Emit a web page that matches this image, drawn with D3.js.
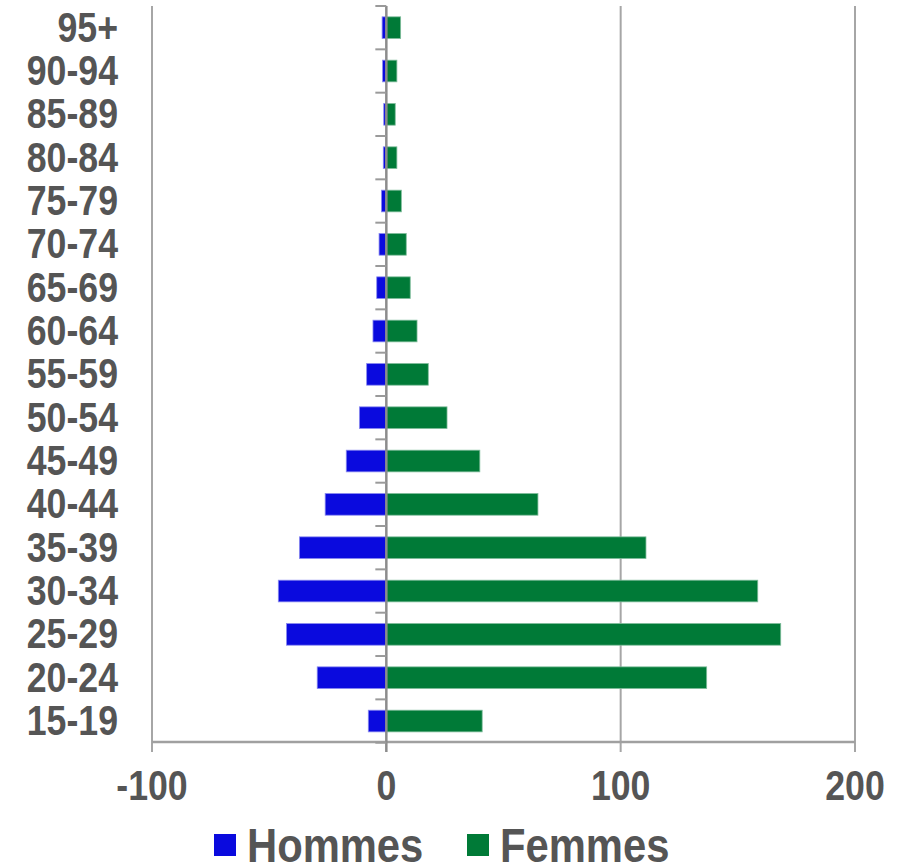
<!DOCTYPE html>
<html><head><meta charset="utf-8">
<script src="https://cdn.jsdelivr.net/npm/d3@7"></script>
<style>body{margin:0;background:#fff}svg{display:block}</style>
</head><body>
<script>
const categories = ["15-19","20-24","25-29","30-34","35-39","40-44","45-49","50-54","55-59","60-64","65-69","70-74","75-79","80-84","85-89","90-94","95+"];
const hommes = [-7.7,-29.5,-42.6,-46.1,-37.1,-26.1,-17.1,-11.5,-8.4,-5.7,-4.1,-3.1,-2.1,-1.3,-1.1,-1.6,-1.8];
const femmes = [40.9,136.7,168.3,158.5,110.8,64.7,39.9,25.9,17.9,13.1,10.2,8.5,6.4,4.5,3.8,4.5,6.1];
const xTicks = [-100,0,100,200];
const seriesNames = ["Hommes","Femmes"];
const colors = ["#0a0ade","#007a37"];

const W=906,H=864;
const svg=d3.select("body").append("svg").attr("width",W).attr("height",H);
const x=d3.scaleLinear().domain([-100,200]).range([152,855]);
const y=d3.scaleBand().domain(categories.slice().reverse()).range([6,742.7]).paddingInner(0.5).paddingOuter(0.25);
const yb=d3.scaleBand().domain(categories.slice().reverse()).range([6,742.7]);
const txt="#555555", font="'Liberation Sans', Arial, sans-serif";
const y0=742;

// gridlines (non-zero)
svg.append("g").selectAll("line").data(xTicks.filter(d=>d!==0)).join("line")
  .attr("x1",d=>x(d)).attr("x2",d=>x(d)).attr("y1",6).attr("y2",y0+10)
  .attr("stroke","#a6a6a6").attr("stroke-width",2);

// bars
const rows=categories.map((c,i)=>({c,h:hommes[i],f:femmes[i]}));
svg.append("g").selectAll("rect").data(rows).join("rect")
  .attr("x",d=>x(d.h)).attr("width",d=>x(0)-x(d.h))
  .attr("y",d=>y(d.c)).attr("height",y.bandwidth())
  .attr("fill",colors[0]).attr("stroke","#8a8af0").attr("stroke-width",0.8);
svg.append("g").selectAll("rect").data(rows).join("rect")
  .attr("x",x(0)).attr("width",d=>x(d.f)-x(0))
  .attr("y",d=>y(d.c)).attr("height",y.bandwidth())
  .attr("fill",colors[1]).attr("stroke","#7fbc9b").attr("stroke-width",0.8);

// bottom axis line
svg.append("line").attr("x1",x(-100)).attr("x2",x(200)).attr("y1",y0).attr("y2",y0)
  .attr("stroke","#a0a0a0").attr("stroke-width",2.5);

// zero (category) axis
svg.append("line").attr("x1",x(0)).attr("x2",x(0)).attr("y1",6).attr("y2",y0+10)
  .attr("stroke","#8c8c8c").attr("stroke-width",2.5);
const bounds=yb.domain().map(c=>yb(c)).concat([742.7]);
svg.append("g").selectAll("line").data(bounds).join("line")
  .attr("x1",x(0)-11).attr("x2",x(0)).attr("y1",d=>d).attr("y2",d=>d)
  .attr("stroke","#9a9a9a").attr("stroke-width",2);

// category labels
svg.append("g").selectAll("text").data(categories).join("text")
  .attr("transform",d=>`translate(118,${yb(d)+yb.bandwidth()/2+14}) scale(0.85,1)`)
  .attr("text-anchor","end").attr("font-family",font).attr("font-weight","bold")
  .attr("font-size",42).attr("fill",txt).text(d=>d);

// x tick labels
svg.append("g").selectAll("text").data(xTicks).join("text")
  .attr("transform",d=>`translate(${x(d)},800) scale(0.85,1)`)
  .attr("text-anchor","middle").attr("font-family",font).attr("font-weight","bold")
  .attr("font-size",42).attr("fill",txt).text(d=>d);

// legend
const legX=[214,467];
const lg=svg.append("g").selectAll("g").data(seriesNames).join("g");
lg.append("rect").attr("x",(d,i)=>legX[i]).attr("y",834).attr("width",22).attr("height",22)
  .attr("fill",(d,i)=>colors[i]);
lg.append("text").attr("transform",(d,i)=>`translate(${legX[i]+33},862) scale(0.87,1)`)
  .attr("font-family",font).attr("font-weight","bold").attr("font-size",48).attr("fill",txt)
  .text(d=>d);
</script>
</body></html>
